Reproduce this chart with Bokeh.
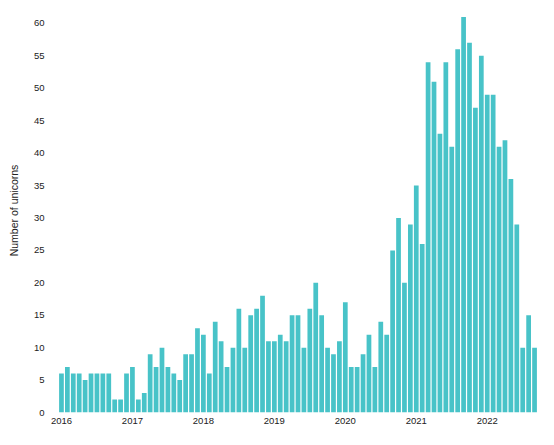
from bokeh.plotting import figure
from bokeh.models import ColumnDataSource, Range1d, FixedTicker
from bokeh.embed import file_html
from bokeh.resources import INLINE

years = ["2016", "2017", "2018", "2019", "2020", "2021", "2022"]
counts_2016 = [6, 7, 6, 6, 5, 6, 6, 6, 6, 2, 2, 6]
counts_2017 = [7, 2, 3, 9, 7, 10, 7, 6, 5, 9, 9, 13]
counts_2018 = [12, 6, 14, 11, 7, 10, 16, 10, 15, 16, 18, 11]
counts_2019 = [11, 12, 11, 15, 15, 10, 16, 20, 15, 10, 9, 11]
counts_2020 = [17, 7, 7, 9, 12, 7, 14, 12, 25, 30, 20, 29]
counts_2021 = [35, 26, 54, 51, 43, 54, 41, 56, 61, 57, 47, 55]
counts_2022 = [49, 49, 41, 42, 36, 29, 10, 15, 10]

counts = (counts_2016 + counts_2017 + counts_2018 + counts_2019
          + counts_2020 + counts_2021 + counts_2022)
month_index = list(range(len(counts)))

source = ColumnDataSource(data=dict(x=month_index, top=counts))

p = figure(width=538, height=429, output_backend="svg", toolbar_location=None,
           x_range=Range1d(-0.5, len(counts) - 0.5), y_range=Range1d(0, 62.3),
           min_border_left=58, min_border_right=1, min_border_top=8,
           min_border_bottom=17)

p.vbar(x="x", top="top", bottom=0, width=0.8, source=source,
       fill_color="#48C3C8", line_color=None)

p.outline_line_color = None
p.xgrid.visible = False
p.ygrid.visible = False
p.background_fill_color = "white"
p.border_fill_color = "white"

ticks_x = [12 * i for i in range(len(years))]
p.xaxis.ticker = FixedTicker(ticks=ticks_x)
p.xaxis.major_label_overrides = {t: y for t, y in zip(ticks_x, years)}
p.yaxis.ticker = FixedTicker(ticks=list(range(0, 61, 5)))

for ax in (p.xaxis, p.yaxis):
    ax.axis_line_color = None
    ax.major_tick_line_color = None
    ax.minor_tick_line_color = None
    ax.major_tick_out = 0
    ax.major_tick_in = 0
    ax.minor_tick_out = 0
    ax.minor_tick_in = 0
    ax.major_label_text_font = "Liberation Sans"
    ax.major_label_text_font_size = "9.5px"
    ax.major_label_text_color = "#222222"

p.xaxis.major_label_standoff = 5
p.yaxis.major_label_standoff = 14
p.yaxis.axis_label = "Number of unicorns"
p.yaxis.axis_label_text_font = "Liberation Sans"
p.yaxis.axis_label_text_font_size = "10.5px"
p.yaxis.axis_label_text_font_style = "normal"
p.yaxis.axis_label_text_color = "#222222"
p.yaxis.axis_label_standoff = 11

open("out.html", "w").write(file_html(p, INLINE))
